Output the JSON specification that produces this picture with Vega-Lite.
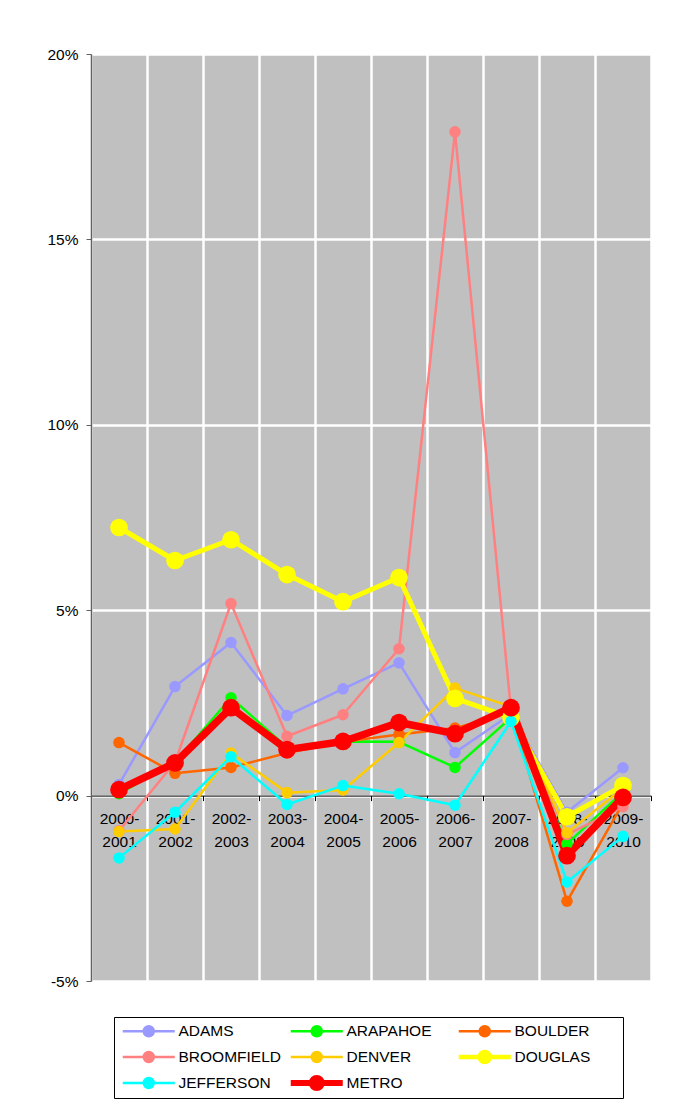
{
  "$schema": "https://vega.github.io/schema/vega-lite/v6.json",
  "width": 560,
  "height": 927,
  "autosize": {"type": "none"},
  "padding": {"left": 91, "top": 54, "right": 35, "bottom": 132},
  "background": "white",
  "config": {
    "font": "Liberation Sans",
    "view": {"fill": "#C0C0C0", "stroke": null}
  },
  "data": {
    "values": [
      {"period": "2000-2001", "series": "ADAMS", "value": 0.3},
      {"period": "2001-2002", "series": "ADAMS", "value": 2.94},
      {"period": "2002-2003", "series": "ADAMS", "value": 4.13},
      {"period": "2003-2004", "series": "ADAMS", "value": 2.16},
      {"period": "2004-2005", "series": "ADAMS", "value": 2.88},
      {"period": "2005-2006", "series": "ADAMS", "value": 3.58},
      {"period": "2006-2007", "series": "ADAMS", "value": 1.16},
      {"period": "2007-2008", "series": "ADAMS", "value": 2.2},
      {"period": "2008-2009", "series": "ADAMS", "value": -0.45},
      {"period": "2009-2010", "series": "ADAMS", "value": 0.75},
      {"period": "2000-2001", "series": "ARAPAHOE", "value": 0.05},
      {"period": "2001-2002", "series": "ARAPAHOE", "value": 0.9},
      {"period": "2002-2003", "series": "ARAPAHOE", "value": 2.64},
      {"period": "2003-2004", "series": "ARAPAHOE", "value": 1.3},
      {"period": "2004-2005", "series": "ARAPAHOE", "value": 1.46},
      {"period": "2005-2006", "series": "ARAPAHOE", "value": 1.45},
      {"period": "2006-2007", "series": "ARAPAHOE", "value": 0.76},
      {"period": "2007-2008", "series": "ARAPAHOE", "value": 2.1},
      {"period": "2008-2009", "series": "ARAPAHOE", "value": -1.3},
      {"period": "2009-2010", "series": "ARAPAHOE", "value": 0.1},
      {"period": "2000-2001", "series": "BOULDER", "value": 1.43},
      {"period": "2001-2002", "series": "BOULDER", "value": 0.6},
      {"period": "2002-2003", "series": "BOULDER", "value": 0.76},
      {"period": "2003-2004", "series": "BOULDER", "value": 1.15},
      {"period": "2004-2005", "series": "BOULDER", "value": 1.45},
      {"period": "2005-2006", "series": "BOULDER", "value": 1.65},
      {"period": "2006-2007", "series": "BOULDER", "value": 1.82},
      {"period": "2007-2008", "series": "BOULDER", "value": 2.25},
      {"period": "2008-2009", "series": "BOULDER", "value": -2.85},
      {"period": "2009-2010", "series": "BOULDER", "value": -0.2},
      {"period": "2000-2001", "series": "BROOMFIELD", "value": -0.95},
      {"period": "2001-2002", "series": "BROOMFIELD", "value": 0.9},
      {"period": "2002-2003", "series": "BROOMFIELD", "value": 5.18},
      {"period": "2003-2004", "series": "BROOMFIELD", "value": 1.6},
      {"period": "2004-2005", "series": "BROOMFIELD", "value": 2.18},
      {"period": "2005-2006", "series": "BROOMFIELD", "value": 3.96},
      {"period": "2006-2007", "series": "BROOMFIELD", "value": 17.9},
      {"period": "2007-2008", "series": "BROOMFIELD", "value": 2.3},
      {"period": "2008-2009", "series": "BROOMFIELD", "value": -1.05},
      {"period": "2009-2010", "series": "BROOMFIELD", "value": -0.3},
      {"period": "2000-2001", "series": "DENVER", "value": -0.97},
      {"period": "2001-2002", "series": "DENVER", "value": -0.9},
      {"period": "2002-2003", "series": "DENVER", "value": 1.15},
      {"period": "2003-2004", "series": "DENVER", "value": 0.08},
      {"period": "2004-2005", "series": "DENVER", "value": 0.15},
      {"period": "2005-2006", "series": "DENVER", "value": 1.43},
      {"period": "2006-2007", "series": "DENVER", "value": 2.9},
      {"period": "2007-2008", "series": "DENVER", "value": 2.4},
      {"period": "2008-2009", "series": "DENVER", "value": -1.0},
      {"period": "2009-2010", "series": "DENVER", "value": 0.2},
      {"period": "2000-2001", "series": "DOUGLAS", "value": 7.23},
      {"period": "2001-2002", "series": "DOUGLAS", "value": 6.34},
      {"period": "2002-2003", "series": "DOUGLAS", "value": 6.9},
      {"period": "2003-2004", "series": "DOUGLAS", "value": 5.96},
      {"period": "2004-2005", "series": "DOUGLAS", "value": 5.23},
      {"period": "2005-2006", "series": "DOUGLAS", "value": 5.88},
      {"period": "2006-2007", "series": "DOUGLAS", "value": 2.62},
      {"period": "2007-2008", "series": "DOUGLAS", "value": 2.1},
      {"period": "2008-2009", "series": "DOUGLAS", "value": -0.57},
      {"period": "2009-2010", "series": "DOUGLAS", "value": 0.27},
      {"period": "2000-2001", "series": "JEFFERSON", "value": -1.68},
      {"period": "2001-2002", "series": "JEFFERSON", "value": -0.45},
      {"period": "2002-2003", "series": "JEFFERSON", "value": 1.05},
      {"period": "2003-2004", "series": "JEFFERSON", "value": -0.24},
      {"period": "2004-2005", "series": "JEFFERSON", "value": 0.27},
      {"period": "2005-2006", "series": "JEFFERSON", "value": 0.05},
      {"period": "2006-2007", "series": "JEFFERSON", "value": -0.26},
      {"period": "2007-2008", "series": "JEFFERSON", "value": 2.0},
      {"period": "2008-2009", "series": "JEFFERSON", "value": -2.33},
      {"period": "2009-2010", "series": "JEFFERSON", "value": -1.1},
      {"period": "2000-2001", "series": "METRO", "value": 0.16},
      {"period": "2001-2002", "series": "METRO", "value": 0.88},
      {"period": "2002-2003", "series": "METRO", "value": 2.37},
      {"period": "2003-2004", "series": "METRO", "value": 1.24},
      {"period": "2004-2005", "series": "METRO", "value": 1.46},
      {"period": "2005-2006", "series": "METRO", "value": 1.97},
      {"period": "2006-2007", "series": "METRO", "value": 1.67},
      {"period": "2007-2008", "series": "METRO", "value": 2.37},
      {"period": "2008-2009", "series": "METRO", "value": -1.62},
      {"period": "2009-2010", "series": "METRO", "value": -0.05}
    ]
  },
  "encoding": {
    "x": {
      "field": "period",
      "type": "ordinal",
      "bandPosition": 0.5,
      "scale": {"type": "band", "paddingInner": 0, "paddingOuter": 0},
      "axis": {
        "title": null,
        "orient": "bottom",
        "offset": -185.4,
        "tickBand": "extent",
        "grid": true,
        "gridColor": "white",
        "gridWidth": 2.5,
        "gridOpacity": 1,
        "domainColor": "black",
        "domainWidth": 1,
        "tickColor": "black",
        "tickWidth": 1,
        "tickSize": 5,
        "labelAngle": 0,
        "labelFont": "Liberation Sans",
        "labelFontSize": 15.5,
        "labelColor": "black",
        "labelPadding": 11,
        "labelLineHeight": 23,
        "labelBaseline": "top",
        "labelExpr": "[substring(datum.label, 0, 5), substring(datum.label, 5)]"
      }
    },
    "y": {
      "field": "value",
      "type": "quantitative",
      "scale": {"domain": [-5, 20], "nice": false, "zero": false},
      "axis": {
        "title": null,
        "values": [-5, 0, 5, 10, 15, 20],
        "labelExpr": "datum.value + '%'",
        "grid": true,
        "gridColor": "white",
        "gridWidth": 2.5,
        "gridOpacity": 1,
        "domainColor": "#606060",
        "domainWidth": 1.5,
        "tickColor": "#606060",
        "tickSize": 5,
        "labelFont": "Liberation Sans",
        "labelFontSize": 15.5,
        "labelColor": "black",
        "labelPadding": 8
      }
    },
    "color": {
      "field": "series",
      "type": "nominal",
      "scale": {
        "domain": ["ADAMS", "ARAPAHOE", "BOULDER", "BROOMFIELD", "DENVER", "DOUGLAS", "JEFFERSON", "METRO"],
        "range": ["#9999FF", "#00FF00", "#FF6600", "#FF8080", "#FFCC00", "#FFFF00", "#00FFFF", "#FF0000"]
      },
      "legend": {
        "title": null,
        "orient": "none",
        "legendX": 23,
        "legendY": 963,
        "direction": "horizontal",
        "columns": 3,
        "gridAlign": "all",
        "padding": 6,
        "strokeColor": "black",
        "fillColor": "white",
        "symbolType": "M-5.2,0L5.2,0M-1,0A1,1,0,1,0,1,0A1,1,0,1,0,-1,0Z",
        "symbolSize": 100,
        "symbolOffset": 21,
        "symbolStrokeWidth": 2.5,
        "symbolOpacity": 1,
        "labelOffset": 22,
        "labelFont": "Liberation Sans",
        "labelFontSize": 15.5,
        "labelColor": "black",
        "labelLimit": 300,
        "labelExpr": "datum.label === 'DOUGLAS' ? datum.label + '\u00a0\u00a0\u00a0\u00a0\u00a0\u00a0\u200b' : datum.label",
        "clipHeight": 16,
        "rowPadding": 9,
        "columnPadding": 7,
        "encode": {
          "symbols": {
            "update": {
              "fill": {"scale": "color", "field": "value"},
              "stroke": {"scale": "color", "field": "value"},
              "strokeWidth": {"signal": "datum.value === 'METRO' ? 6 : datum.value === 'DOUGLAS' ? 4.5 : 2.5"},
              "opacity": {"value": 1}
            }
          }
        }
      }
    }
  },
  "layer": [
    {
      "mark": {"type": "line", "strokeJoin": "round", "strokeCap": "round"},
      "encoding": {
        "strokeWidth": {
          "condition": [
            {"test": "datum.series === 'METRO'", "value": 7.5},
            {"test": "datum.series === 'DOUGLAS'", "value": 5}
          ],
          "value": 2.5
        }
      }
    },
    {
      "mark": {"type": "circle", "opacity": 1},
      "encoding": {
        "size": {
          "condition": [
            {"test": "datum.series === 'METRO' || datum.series === 'DOUGLAS'", "value": 314}
          ],
          "value": 133
        }
      }
    }
  ]
}
